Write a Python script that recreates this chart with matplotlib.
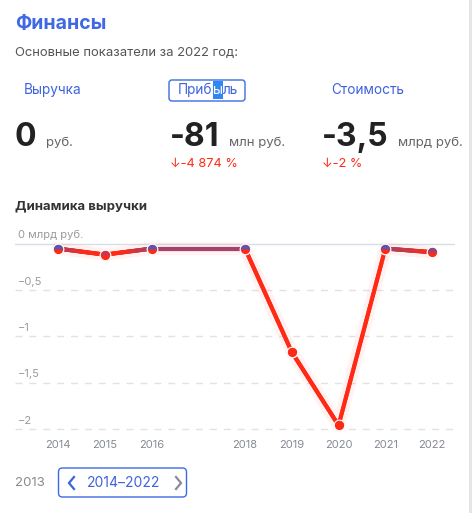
import numpy as np
import matplotlib
matplotlib.use("Agg")
import matplotlib.pyplot as plt
from matplotlib.collections import LineCollection
from matplotlib.lines import Line2D
from matplotlib.patches import FancyBboxPatch, Rectangle
from matplotlib.transforms import IdentityTransform, blended_transform_factory
from matplotlib.colors import to_rgb

plt.rcParams['font.family'] = ['Inter', 'DejaVu Sans']

# data
years = [2014, 2015, 2016, 2018, 2019, 2020, 2021, 2022]
revenue = [-0.055, -0.12, -0.055, -0.055, -1.17, -1.96, -0.054, -0.094]
ytick_vals = [0, -0.5, -1, -1.5, -2]
ytick_labels = ["0 млрд руб.", "−0,5", "−1", "−1,5", "−2"]
tabs = ["Выручка", "Прибыль", "Стоимость"]
big_values = ["0", "-81", "-3,5"]
units = ["руб.", "млн руб.", "млрд руб."]
changes = [None, "↓-4 874 %", "↓-2 %"]

W, H = 472, 513
fig = plt.figure(figsize=(W / 100, H / 100), dpi=100)
fig.patch.set_facecolor("white")


def fx(x):
    return x / W


def fy(y):
    return 1 - y / H


BLUE = "#3d63dd"
RED = "#ff2a16"
PURPLE = "#5d55b0"

# header
fig.text(fx(15), fy(24), "Финансы", fontsize=14, fontweight="bold", color="#3f6ae3", va="center")
fig.text(fx(15), fy(53), "Основные показатели за 2022 год:", fontsize=9.4, color="#555555", va="center")

tab_x = [24, 178, 331]
fig.text(fx(tab_x[0]), fy(90), tabs[0], fontsize=9.8, color=BLUE, va="center")
fig.text(fx(tab_x[2]), fy(90), tabs[2], fontsize=9.8, color=BLUE, va="center")

# "Прибыль" tab with a selected letter
fig.canvas.draw()
r = fig.canvas.get_renderer()
t1 = fig.text(fx(tab_x[1]), fy(90), "Приб", fontsize=9.8, color=BLUE, va="center")
e1 = t1.get_window_extent(r)
t2 = fig.text(e1.x1 / W, fy(90), "ы", fontsize=9.8, color="white", va="center", zorder=3)
e2 = t2.get_window_extent(r)
fig.patches.append(Rectangle((e2.x0, H - 99), e2.width, 18, transform=IdentityTransform(),
                             facecolor="#2f86f6", edgecolor="none", zorder=2, figure=fig))
fig.text(e2.x1 / W, fy(90), "ль", fontsize=9.8, color=BLUE, va="center")
fig.patches.append(FancyBboxPatch((169, H - 101), 76, 21, boxstyle="round,pad=0,rounding_size=3",
                                  transform=IdentityTransform(), facecolor="none",
                                  edgecolor="#3d6ae6", lw=1, figure=fig))

# big numbers
num_x = [15, 170, 322]
for i in range(3):
    t = fig.text(fx(num_x[i]), fy(146), big_values[i], fontsize=23, fontweight="bold",
                 color="#222222", va="baseline")
    e = t.get_window_extent(r)
    fig.text((e.x1 + 9) / W, fy(146), units[i], fontsize=9.5, color="#666666", va="baseline")
    if changes[i]:
        fig.text(fx(num_x[i]), fy(164), changes[i], fontsize=9.2, color=RED, va="center")

fig.text(fx(15), fy(206), "Динамика выручки", fontsize=9.5, fontweight="bold", color="#333333", va="center")

# chart
px_per_unit = 92.8
zero_px = 243.5
ax_top, ax_bot = 226, 432
ax = fig.add_axes([fx(15), fy(ax_bot), 440 / W, (ax_bot - ax_top) / H])
ax.set_xlim(2013.08, 2022.49)
ax.set_ylim(-(ax_bot - zero_px) / px_per_unit, (zero_px - ax_top) / px_per_unit)
for s in ax.spines.values():
    s.set_visible(False)
ax.set_yticks([])
ax.set_xticks(years)
ax.set_xticklabels([str(y) for y in years], fontsize=8, color="#858a93")
ax.tick_params(axis="x", length=0, pad=6)

for v in ytick_vals:
    if v == 0:
        ax.axhline(v, color="#d8dde6", lw=1, zorder=1)
    else:
        ax.axhline(v, color="#e2e2e2", lw=1, ls=(0, (5, 5)), zorder=1)

tr = blended_transform_factory(ax.transAxes, ax.transData)
for v, lab in zip(ytick_vals, ytick_labels):
    ax.text(3 / 440, v + 0.035, lab, transform=tr, fontsize=8, color="#9a9a9a", va="bottom")

c0 = np.array(to_rgb(PURPLE))
c1 = np.array(to_rgb(RED))


def grad(y):
    t = np.clip((-y - 0.025) / 0.07, 0, 1)
    return c0 * (1 - t) + c1 * t


xs = np.array(years, dtype=float)
ys = np.array(revenue)
segs, cols = [], []
for i in range(len(xs) - 1):
    xx = np.linspace(xs[i], xs[i + 1], 60)
    yy = np.linspace(ys[i], ys[i + 1], 60)
    for j in range(59):
        segs.append([(xx[j], yy[j]), (xx[j + 1], yy[j + 1])])
        cols.append(grad((yy[j] + yy[j + 1]) / 2))

ax.plot(xs, ys, color=RED, lw=9, alpha=0.06, solid_capstyle="round", zorder=2)
ax.add_collection(LineCollection(segs, colors=cols, linewidths=3, capstyle="round", zorder=3))

rad = 4.5 / px_per_unit
for x, y in zip(xs, ys):
    ax.plot([x], [y], marker="o", markersize=7.6, color=grad(y - rad),
            markeredgecolor="white", markeredgewidth=0.9, zorder=4)
    ax.plot([x], [y], marker="o", markersize=6.7, fillstyle="top", color=grad(y + rad),
            markeredgewidth=0, zorder=5)

# bottom selector
fig.text(fx(15), fy(483), "2013", fontsize=9.5, color="#8a8a8a", va="center")
fig.patches.append(FancyBboxPatch((58.5, H - 497), 128, 29, boxstyle="round,pad=0,rounding_size=4",
                                  transform=IdentityTransform(), facecolor="none",
                                  edgecolor="#3d6ae6", lw=1, figure=fig))
fig.lines.append(Line2D([74, 69, 74], [H - 477, H - 483, H - 489], transform=IdentityTransform(),
                        color=BLUE, lw=1.6, solid_joinstyle="miter", figure=fig))
fig.lines.append(Line2D([176, 181, 176], [H - 477, H - 483, H - 489], transform=IdentityTransform(),
                        color="#8a8a9a", lw=1.6, solid_joinstyle="miter", figure=fig))
fig.text(fx(87), fy(483), "2014–2022", fontsize=10, color=BLUE, va="center")

# card border on the right
fig.patches.append(Rectangle((469, 0), 3, H, transform=IdentityTransform(),
                             facecolor="#e3e7ea", edgecolor="none", figure=fig))

fig.savefig("out.png", dpi=100)
